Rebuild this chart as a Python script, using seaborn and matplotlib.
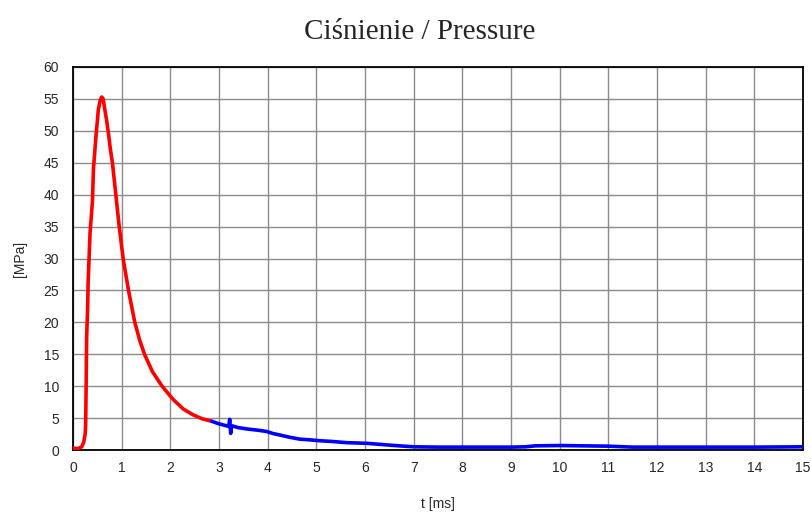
import matplotlib
matplotlib.use("Agg")
import matplotlib.pyplot as plt
import seaborn as sns
import pandas as pd

# Red segment (rise and decay)
t_red = [0.0, 0.1, 0.18, 0.22, 0.25, 0.26, 0.27, 0.28, 0.30, 0.31, 0.33, 0.35, 0.38, 0.40,
         0.42, 0.45, 0.47, 0.50, 0.52, 0.56, 0.59, 0.62, 0.65, 0.69, 0.73, 0.77, 0.81,
         0.88, 0.95, 1.03, 1.14, 1.27, 1.37, 1.47, 1.63, 1.83, 2.06, 2.27, 2.47, 2.65, 2.85]
p_red = [0.3, 0.2, 0.5, 1.2, 2.5, 4.0, 10.0, 17.5, 22.0, 26.0, 30.0, 34.0, 37.0, 39.0,
         44.0, 47.0, 49.0, 51.5, 53.3, 54.8, 55.3, 55.0, 53.5, 51.7, 49.5, 47.0, 45.0,
         40.0, 35.0, 30.0, 25.0, 20.0, 17.2, 15.0, 12.3, 10.0, 7.9, 6.4, 5.5, 4.9, 4.5]

# Blue segment (tail)
t_blue = [2.85, 3.0, 3.1, 3.2, 3.22, 3.24, 3.26, 3.4, 3.57, 3.8, 3.98, 4.1, 4.25, 4.45,
          4.66, 4.85, 5.07, 5.3, 5.62, 6.03, 6.2, 6.44, 6.7, 7.0, 7.5, 8.0, 9.0, 9.3,
          9.5, 10.0, 10.5, 11.0, 11.5, 12.0, 13.0, 14.0, 15.0]
p_blue = [4.5, 4.1, 3.9, 3.7, 4.8, 2.6, 3.8, 3.5, 3.3, 3.1, 2.9, 2.6, 2.35, 2.0,
          1.7, 1.6, 1.45, 1.35, 1.15, 1.05, 0.95, 0.8, 0.65, 0.5, 0.45, 0.45, 0.45, 0.5,
          0.65, 0.7, 0.65, 0.6, 0.45, 0.45, 0.45, 0.45, 0.5]

x_ticks = list(range(0, 16))
y_ticks = list(range(0, 61, 5))

df = pd.concat([
    pd.DataFrame({"t": t_red, "p": p_red, "seg": "red"}),
    pd.DataFrame({"t": t_blue, "p": p_blue, "seg": "blue"}),
], ignore_index=True)

sns.set_style("white")
plt.rcParams["font.family"] = ["Liberation Sans", "DejaVu Sans"]

fig = plt.figure(figsize=(8.11, 5.12), dpi=100)
ax = fig.add_axes([73/811, 1 - 450/512, 730/811, 383/512])

sns.lineplot(data=df, x="t", y="p", hue="seg", palette={"red": "#ff0000", "blue": "#0000ff"},
             sort=False, estimator=None, linewidth=2.6, legend=False, ax=ax, zorder=3)

ax.set_xlim(0, 15)
ax.set_ylim(0, 60)
ax.set_xticks(x_ticks)
ax.set_yticks(y_ticks)
ax.grid(True, color="#8a8a8a", linewidth=1.0)
ax.set_axisbelow(True)
for s in ax.spines.values():
    s.set_visible(True)
    s.set_color("black")
    s.set_linewidth(1.3)
ax.tick_params(axis="x", direction="in", length=4, labelsize=10, pad=8, color="black")
ax.tick_params(axis="y", direction="out", length=4, labelsize=10, pad=6, color="black")
ax.set_xlabel("t [ms]", fontsize=10, labelpad=16)
ax.set_ylabel("[MPa]", fontsize=10, labelpad=12)

fig.text(420/811, 1 - 32/512, "Ciśnienie / Pressure", ha="center", va="center",
         fontsize=21, family=["Liberation Serif", "DejaVu Serif"])

fig.savefig("out.png", dpi=100)
